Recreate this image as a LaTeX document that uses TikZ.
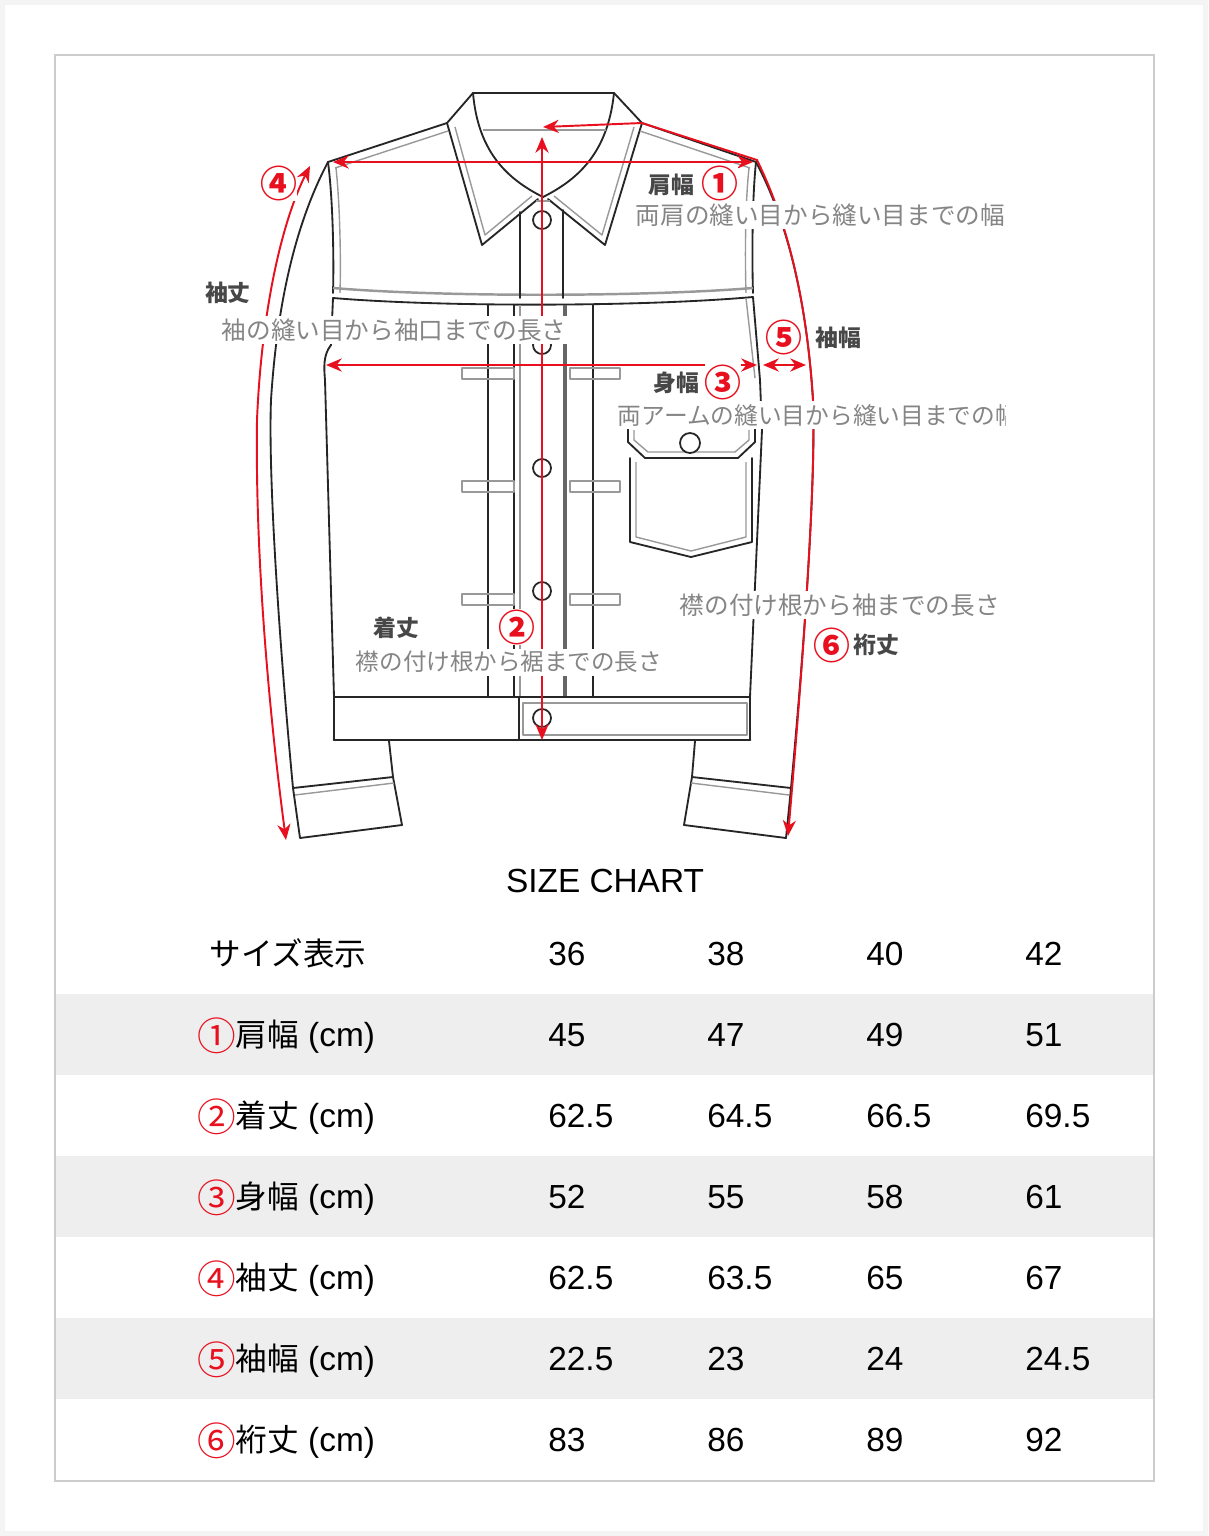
\documentclass[tikz,border=0pt]{standalone}
\usepackage{fontspec}
\setmainfont{Liberation Sans}
\newfontfamily\jp{Noto Sans CJK JP}
\usetikzlibrary{arrows.meta}
\definecolor{markred}{HTML}{E8101E}
\definecolor{framegray}{HTML}{CCCCCC}
\definecolor{pagegray}{HTML}{F4F4F4}
\definecolor{stripe}{HTML}{EEEEEE}
\definecolor{notegray}{HTML}{858585}
\definecolor{titlegray}{HTML}{474747}
\tikzstyle{jacket-line} = [draw=black!85, line width=1.05pt, line join=round, line cap=round]
\tikzstyle{seam-line} = [draw=black!40, line width=0.8pt, line join=round]
\tikzstyle{measure} = [draw=markred, line width=1.1pt, {Stealth[length=9pt,width=7.5pt]}-{Stealth[length=9pt,width=7.5pt]}]
\tikzstyle{note-text} = [fill=white, inner sep=1.5pt, text=notegray, font=\jp\fontsize{14}{14}\selectfont]
\tikzstyle{title-text} = [inner sep=1pt, text=titlegray, font=\jp\bfseries\fontsize{13}{14}\selectfont]
\tikzstyle{circ-num} = [fill=white, inner sep=0pt, text=markred, font=\jp\bfseries\fontsize{21}{21}\selectfont]
\tikzstyle{cell} = [anchor=base west, inner sep=0pt, font=\fontsize{19}{20}\selectfont]
\tikzstyle{row-name} = [anchor=base, inner sep=0pt, font=\fontsize{19}{20}\selectfont]
\tikzstyle{button} = [draw=black!85, line width=1pt, fill=white]
\newcommand{\jpt}{\jp\fontsize{18}{20}\selectfont}
\newcommand{\jpmark}{\jp\fontsize{22}{20}\selectfont}

\begin{document}
\begin{tikzpicture}[x=0.02cm, y=-0.02cm]
\useasboundingbox (0,0) rectangle (1208,1536);

% page, stripes and frame
\fill[pagegray] (0,0) rectangle (1208,1536);
\fill[white] (5,5) rectangle (1203,1531);
\foreach \sy in {994,1156,1318}
    \fill[stripe] (56,\sy) rectangle (1154,\sy+81);
\draw[framegray, line width=1.1pt] (55,55) rectangle (1154,1481);

% measuring points
\coordinate (nape) at (543,127);
\coordinate (neck-r) at (642,123);
\coordinate (sh-l) at (333,162);
\coordinate (sh-r) at (753,162);
\coordinate (neck-top) at (542,137);
\coordinate (hem) at (542,740);
\coordinate (arm-l) at (326,365);
\coordinate (arm-r) at (757,365);
\coordinate (sleeve-in) at (763,365);
\coordinate (sleeve-out) at (806,365);
\coordinate (sl-top) at (310,166);
\coordinate (sl-end) at (286,840);
\coordinate (cuff-r) at (788,836);

% collar
\draw[jacket-line] (447,123) -- (473,93) -- (614,93) -- (642,123);
\draw[jacket-line] (473,93) .. controls (478,150) and (505,178) .. (543,197);
\draw[jacket-line] (614,93) .. controls (608,150) and (581,178) .. (543,197);
\draw[seam-line, line width=1.6pt] (483,130) -- (606,130);
\draw[jacket-line] (447,123) -- (482,245) -- (538,199);
\draw[seam-line] (455,127) -- (485,235) -- (532,196);
\draw[jacket-line] (642,123) -- (605,245) -- (548,199);
\draw[seam-line] (634,127) -- (602,235) -- (554,196);
\draw[seam-line] (536,201) -- (550,201);

% shoulders and yoke
\draw[jacket-line] (447,123) -- (328,162);
\draw[seam-line] (448,131) -- (335,168);
\draw[jacket-line] (642,123) -- (756,162);
\draw[seam-line] (640,131) -- (750,168);
\draw[jacket-line] (328,162) .. controls (333,200) and (334,260) .. (333,293);
\draw[seam-line] (336,168) .. controls (340,205) and (341,260) .. (340,293);
\draw[jacket-line] (756,162) .. controls (752,200) and (752,260) .. (753,293);
\draw[seam-line] (749,168) .. controls (745,205) and (745,260) .. (746,293);
\draw[seam-line, line width=1.4pt] (333,288) .. controls (440,297) and (640,297) .. (753,288);
\draw[jacket-line] (333,298) .. controls (440,307) and (640,307) .. (753,297);

% body sides
\draw[jacket-line] (333,298) -- (331,345) .. controls (323,355) and (324,368) .. (325,380) -- (334,697);
\draw[jacket-line] (753,297) -- (760,380) -- (762,430) -- (750,697);
\draw[seam-line] (746,298) -- (755,378);

% sleeves and cuffs
\draw[jacket-line] (328,162) .. controls (300,215) and (278,290) .. (271,400) .. controls (268,480) and (280,650) .. (293,788) -- (300,838) -- (402,825) -- (393,777) -- (389,741);
\draw[seam-line] (295,795) -- (394,783);
\draw[jacket-line] (293,788) -- (393,777);
\draw[jacket-line] (756,162) .. controls (784,215) and (806,290) .. (813,400) .. controls (816,480) and (804,650) .. (791,788) -- (786,838) -- (684,825) -- (692,777) -- (695,741);
\draw[seam-line] (789,795) -- (691,783);
\draw[jacket-line] (791,788) -- (692,777);

% placket
\draw[jacket-line] (520,212) -- (520,298);
\draw[jacket-line] (563,210) -- (563,298);
\draw[jacket-line] (488,305) -- (488,697);
\draw[jacket-line] (514,305) -- (514,697);
\draw[seam-line] (520,305) -- (520,697);
\draw[black!60, line width=2.2pt] (565,305) -- (565,697);
\draw[jacket-line] (593,305) -- (593,697);
\foreach \ty in {368,481,594} {
    \draw[seam-line] (462,\ty) rectangle (514,\ty+11);
    \draw[seam-line] (570,\ty) rectangle (620,\ty+11);
}

% waistband
\draw[jacket-line] (334,697) -- (750,697);
\draw[jacket-line, line width=1.6pt] (334,740) -- (750,740);
\draw[jacket-line] (334,697) -- (334,740);
\draw[jacket-line] (750,697) -- (750,740);
\draw[jacket-line] (519,697) -- (519,740);
\draw[seam-line] (523,703) rectangle (747,735);

% chest pocket
\draw[jacket-line] (628,428) -- (628,442) -- (645,458) -- (738,458) -- (755,442) -- (755,428);
\draw[seam-line] (634,430) -- (634,440) -- (648,452) -- (735,452) -- (749,440) -- (749,430);
\draw[jacket-line] (630,458) -- (630,542) -- (691,557) -- (752,542) -- (752,458);
\draw[seam-line] (636,462) -- (636,537) -- (691,551) -- (746,537) -- (746,462);
\draw[button] (690,443) circle (10);

% buttons
\foreach \by in {220,345,468,591,718}
    \draw[button] (542,\by) circle (9);

% measures
\draw[measure] (sh-l) -- (sh-r);
\draw[measure] (neck-top) -- (hem);
\draw[measure] (arm-l) -- (arm-r);
\draw[measure] (sleeve-in) -- (sleeve-out);
\draw[measure] (sl-top) .. controls (285,215) and (262,300) .. (257,420) .. controls (255,560) and (270,720) .. (sl-end);
\draw[measure] (nape) -- (neck-r) -- (757,160) .. controls (784,215) and (806,290) .. (813,400) .. controls (816,480) and (804,650) .. (cuff-r);

% labels
\node[title-text] (t-kata) at (671,185) {肩幅};
\node[circ-num] (n-1) at (720,183) {①};
\node[note-text, anchor=west] (d-kata) at (633,215) {両肩の縫い目から縫い目までの幅};
\node[circ-num] (n-4) at (279,183) {④};
\node[title-text, anchor=west] (t-sode) at (203,293) {袖丈};
\node[note-text, anchor=west] (d-sode) at (219,330) {袖の縫い目から袖口までの長さ};
\node[circ-num] (n-5) at (784,337) {⑤};
\node[title-text] (t-sodehaba) at (838,338) {袖幅};
\node[title-text] (t-mi) at (676,383) {身幅};
\node[circ-num] (n-3) at (723,382) {③};
\begin{scope}
    \clip (600,395) rectangle (1005,440);
    \node[note-text, anchor=west, font=\jp\fontsize{13.5}{14}\selectfont] (d-mi) at (615,415) {両アームの縫い目から縫い目までの幅};
\end{scope}
\node[note-text, anchor=west] (d-yuki) at (677,605) {襟の付け根から袖までの長さ};
\node[circ-num] (n-6) at (832,645) {⑥};
\node[title-text] (t-yuki) at (876,645) {裄丈};
\node[title-text] (t-kitake) at (396,628) {着丈};
\node[circ-num] (n-2) at (517,627) {②};
\node[note-text, anchor=west, font=\jp\fontsize{13.4}{14}\selectfont] (d-kitake) at (353,662) {襟の付け根から裾までの長さ};

% size chart
\node[font=\fontsize{19}{20}\selectfont] (chart) at (605,881) {SIZE CHART};
\node[row-name] (h-label) at (288,965) {\jpt サイズ表示};
\node[cell] (h-a) at (548,965) {36};
\node[cell] (h-b) at (707,965) {38};
\node[cell] (h-c) at (866,965) {40};
\node[cell] (h-d) at (1025,965) {42};
\foreach \y/\mk/\nm/\a/\b/\c/\d [count=\i] in {
    1046/①/肩幅/45/47/49/51,
    1127/②/着丈/62.5/64.5/66.5/69.5,
    1208/③/身幅/52/55/58/61,
    1289/④/袖丈/62.5/63.5/65/67,
    1370/⑤/袖幅/22.5/23/24/24.5,
    1451/⑥/裄丈/83/86/89/92} {
    \node[row-name] (r\i) at (286,\y) {\raisebox{-2.5pt}{\color{markred}\jpmark\mk}{\jpt\nm} (cm)};
    \node[cell] (r\i-a) at (548,\y) {\a};
    \node[cell] (r\i-b) at (707,\y) {\b};
    \node[cell] (r\i-c) at (866,\y) {\c};
    \node[cell] (r\i-d) at (1025,\y) {\d};
}

\end{tikzpicture}
\end{document}
